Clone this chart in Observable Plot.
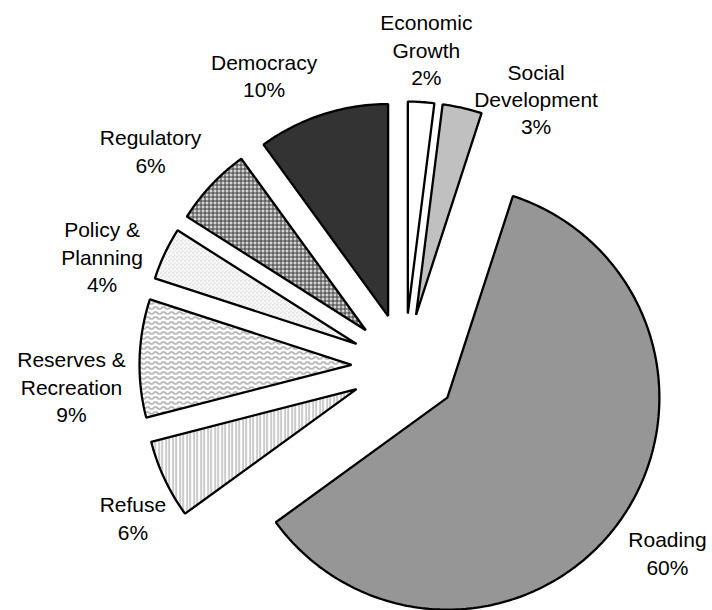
<!DOCTYPE html>
<html><head><meta charset="utf-8">
<script src="https://cdn.jsdelivr.net/npm/d3@7"></script>
<script src="https://cdn.jsdelivr.net/npm/@observablehq/plot@0.6"></script>
<style>body{margin:0;background:#fff}</style>
</head><body><div id="chart"></div>
<script>
// ---- data ----
const categories = ["Economic Growth","Social Development","Roading","Refuse","Reserves & Recreation","Policy & Planning","Regulatory","Democracy"];
const labelLines = ["Economic\nGrowth","Social\nDevelopment","Roading","Refuse","Reserves &\nRecreation","Policy &\nPlanning","Regulatory","Democracy"];
const shares = [2, 3, 60, 6, 9, 4, 6, 10];
const fills = ["#ffffff","#c0c0c0","#969696","url(#p-vert)","url(#p-wave)","url(#p-dots)","url(#p-grid)","#333333"];

// ---- layout ----
const W = 712, H = 610, CX = 404, CY = 366, R = 212, EXPLODE = 53;
const labelShift = [0.4, 16.4, -0.9, -4.6, -6.1, -6.1, -3.3, -9.2];   // degrees from bisector
const labelDist  = [265.5, 247.5, 269, 257.7, 280.8, 269.3, 280.6, 271.3];

const arcs = d3.pie().sort(null).value(d => d)(shares);
const polys = [], labels = [];
arcs.forEach((a, i) => {
  const mid = (a.startAngle + a.endAngle) / 2;
  const ax = CX + EXPLODE * Math.sin(mid), ay = CY - EXPLODE * Math.cos(mid);
  polys.push({i, x: ax, y: ay});
  const n = Math.max(2, Math.ceil((a.endAngle - a.startAngle) * 180 / Math.PI));
  for (let k = 0; k <= n; k++) {
    const t = a.startAngle + (a.endAngle - a.startAngle) * k / n;
    polys.push({i, x: ax + R * Math.sin(t), y: ay - R * Math.cos(t)});
  }
  const la = mid + labelShift[i] * Math.PI / 180;
  labels.push({text: labelLines[i] + "\n" + shares[i] + "%", x: ax + labelDist[i] * Math.sin(la), y: ay - labelDist[i] * Math.cos(la)});
});

const svg = Plot.plot({
  width: W, height: H, margin: 0,
  x: {domain: [0, W], range: [0, W], axis: null},
  y: {domain: [0, H], range: [0, H], axis: null},
  style: {fontFamily: "'Liberation Sans', Arial, sans-serif", background: "#fff", overflow: "hidden"},
  marks: [
    ...categories.map((c, i) => Plot.line(polys.filter(p => p.i === i), {
      x: "x", y: "y", curve: "linear-closed", fill: fills[i], stroke: "#000",
      strokeWidth: 2.3, strokeLinejoin: "miter", title: () => c
    })),
    Plot.text(labels, {x: "x", y: "y", text: "text", fontSize: 21, lineHeight: 1.3,
      lineAnchor: "middle", textAnchor: "middle", fill: "#000"})
  ]
});

const defs = document.createElementNS("http://www.w3.org/2000/svg", "defs");
defs.innerHTML = `
<pattern id="p-vert" width="7" height="4" patternUnits="userSpaceOnUse">
  <rect width="7" height="4" fill="#fff"/>
  <rect x="0" width="1.2" height="4" fill="#a8a8a8"/>
  <rect x="4" width="1.2" height="4" fill="#a8a8a8"/>
</pattern>
<pattern id="p-wave" width="8" height="5" patternUnits="userSpaceOnUse">
  <rect width="8" height="5" fill="#fff"/>
  <path d="M0,3.5 L2,1.5 L4,1.5 L6,3.5 L8,3.5" stroke="#8a8a8a" stroke-width="1.1" fill="none"/>
</pattern>
<pattern id="p-dots" width="4" height="4" patternUnits="userSpaceOnUse">
  <rect width="4" height="4" fill="#fafafa"/>
  <rect x="0" y="0" width="1" height="1" fill="#b8b8b8"/>
  <rect x="2" y="2" width="1" height="1" fill="#c8c8c8"/>
  <rect x="1" y="3" width="1" height="1" fill="#dcdcdc"/>
</pattern>
<pattern id="p-grid" width="4" height="4" patternUnits="userSpaceOnUse">
  <rect width="4" height="4" fill="#d4d4d4"/>
  <rect x="0" y="0" width="4" height="1" fill="#3c3c3c"/>
  <rect x="0" y="0" width="1" height="4" fill="#3c3c3c"/>
</pattern>`;
svg.insertBefore(defs, svg.firstChild);
document.getElementById("chart").appendChild(svg);
</script>
</body></html>
